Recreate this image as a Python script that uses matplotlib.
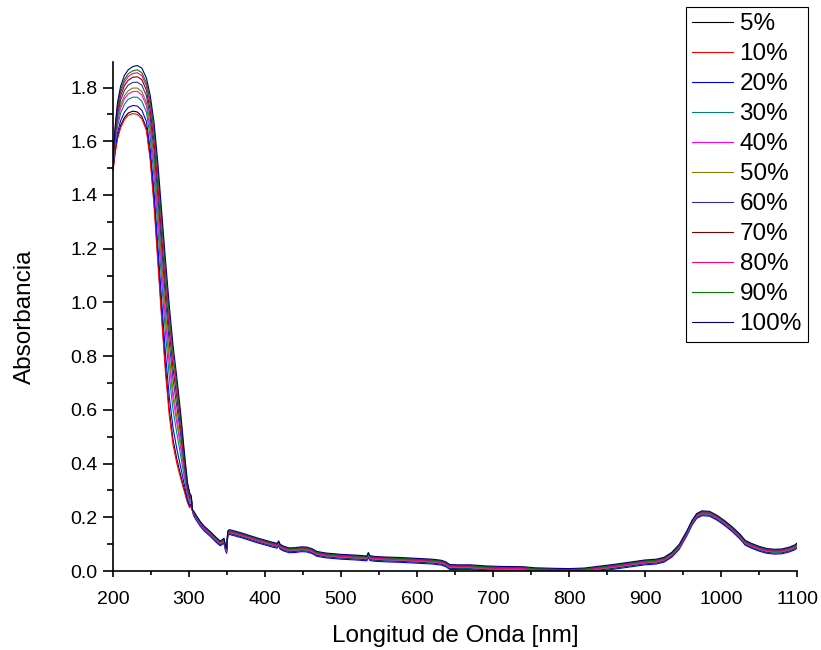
import matplotlib
matplotlib.use("Agg")
import matplotlib.pyplot as plt
from matplotlib.ticker import MultipleLocator, FormatStrFormatter
import numpy as np

plt.rcParams['font.family'] = ['Liberation Sans', 'DejaVu Sans']

labels = ['5%', '10%', '20%', '30%', '40%', '50%', '60%', '70%', '80%', '90%', '100%']
colors = ['#000000', '#ff0000', '#0000ff', '#008080', '#ff00ff', '#808000',
          '#2e2e9c', '#800000', '#ff0080', '#008000', '#000080']

# UV region, where the concentrations separate
uv_nm = [200, 203, 206, 210, 215, 220, 226, 232, 238, 244, 249, 254, 259, 264,
         269, 274, 279, 284, 289, 294, 298, 301, 303, 304.5]

abs_05 = [1.493, 1.565, 1.617, 1.658, 1.688, 1.705, 1.712, 1.709, 1.692, 1.650, 1.542, 1.376,
          1.169, 0.960, 0.761, 0.601, 0.489, 0.416, 0.357, 0.302, 0.259, 0.238, 0.247, 0.225]
abs_10 = [1.490, 1.560, 1.610, 1.650, 1.680, 1.697, 1.703, 1.700, 1.683, 1.640, 1.530, 1.360,
          1.150, 0.940, 0.740, 0.580, 0.470, 0.400, 0.345, 0.295, 0.255, 0.235, 0.245, 0.225]
abs_20 = [1.499, 1.577, 1.633, 1.676, 1.708, 1.726, 1.733, 1.731, 1.715, 1.673, 1.571, 1.413,
          1.213, 1.008, 0.811, 0.650, 0.533, 0.454, 0.387, 0.320, 0.268, 0.244, 0.251, 0.226]
abs_30 = [1.508, 1.595, 1.657, 1.704, 1.738, 1.756, 1.764, 1.764, 1.749, 1.708, 1.614, 1.469,
          1.280, 1.080, 0.887, 0.724, 0.600, 0.512, 0.431, 0.346, 0.281, 0.254, 0.257, 0.226]
abs_40 = [1.514, 1.607, 1.673, 1.723, 1.758, 1.776, 1.785, 1.786, 1.772, 1.732, 1.643, 1.506,
          1.324, 1.128, 0.937, 0.773, 0.644, 0.550, 0.460, 0.363, 0.290, 0.261, 0.261, 0.226]
abs_50 = [1.517, 1.614, 1.683, 1.734, 1.769, 1.788, 1.798, 1.798, 1.785, 1.745, 1.660, 1.527,
          1.350, 1.156, 0.967, 0.801, 0.670, 0.573, 0.477, 0.373, 0.296, 0.265, 0.264, 0.227]
abs_60 = [1.523, 1.626, 1.699, 1.752, 1.789, 1.809, 1.819, 1.820, 1.808, 1.769, 1.688, 1.565,
          1.394, 1.204, 1.017, 0.851, 0.714, 0.611, 0.507, 0.391, 0.305, 0.271, 0.268, 0.227]
abs_70 = [1.529, 1.637, 1.714, 1.769, 1.807, 1.827, 1.838, 1.840, 1.829, 1.790, 1.715, 1.599,
          1.435, 1.248, 1.063, 0.896, 0.755, 0.646, 0.534, 0.407, 0.313, 0.277, 0.272, 0.227]
abs_80 = [1.533, 1.645, 1.725, 1.782, 1.820, 1.841, 1.852, 1.855, 1.844, 1.806, 1.734, 1.624,
          1.465, 1.280, 1.097, 0.929, 0.785, 0.672, 0.553, 0.418, 0.319, 0.282, 0.275, 0.228]
abs_90 = [1.536, 1.651, 1.733, 1.791, 1.830, 1.851, 1.862, 1.866, 1.855, 1.817, 1.748, 1.642,
          1.487, 1.304, 1.122, 0.953, 0.807, 0.691, 0.568, 0.427, 0.323, 0.285, 0.277, 0.228]
abs_100 = [1.540, 1.660, 1.745, 1.805, 1.845, 1.866, 1.878, 1.882, 1.872, 1.835, 1.770, 1.670,
           1.520, 1.340, 1.160, 0.990, 0.840, 0.720, 0.590, 0.440, 0.330, 0.290, 0.280, 0.228]

uv_abs = [abs_05, abs_10, abs_20, abs_30, abs_40, abs_50,
          abs_60, abs_70, abs_80, abs_90, abs_100]

# visible / NIR region, the spectra nearly overlap here
tail_nm = [306, 310, 315, 320, 328, 335, 341, 344, 346, 348, 349.5, 351, 353, 360, 370, 380,
           390, 400, 410, 416, 418, 420, 425, 432, 440, 448, 455, 462, 468, 480, 500, 520,
           534, 536, 538, 545, 560, 580, 600, 620, 632, 638, 643, 655, 670, 690, 710, 740,
           755, 780, 800, 820, 840, 860, 880, 900, 915, 925, 935, 945, 955, 962, 968, 975,
           985, 995, 1005, 1015, 1025, 1032, 1040, 1050, 1060, 1070, 1080, 1090, 1097, 1100]
tail_abs = [0.215, 0.196, 0.175, 0.158, 0.138, 0.118, 0.103, 0.108, 0.113, 0.085, 0.075, 0.140,
            0.145, 0.140, 0.132, 0.123, 0.114, 0.106, 0.098, 0.094, 0.103, 0.090, 0.083, 0.077,
            0.078, 0.081, 0.080, 0.074, 0.064, 0.058, 0.053, 0.050, 0.047, 0.060, 0.048, 0.045,
            0.043, 0.041, 0.038, 0.035, 0.031, 0.025, 0.015, 0.014, 0.014, 0.010, 0.008, 0.007,
            0.003, 0.001, 0.000, 0.002, 0.009, 0.016, 0.024, 0.032, 0.035, 0.042, 0.060, 0.090,
            0.140, 0.180, 0.205, 0.215, 0.213, 0.198, 0.178, 0.155, 0.128, 0.105, 0.094, 0.083,
            0.075, 0.072, 0.073, 0.080, 0.088, 0.095]
tail_offset = [-0.005, 0.000, -0.009, -0.003, -0.001, 0.000, 0.005, 0.003, 0.002, 0.006, 0.009]

fig = plt.figure(figsize=(8.21, 6.5), dpi=100)
ax = fig.add_axes([113 / 821, 1 - 571 / 650, (797 - 113) / 821, (571 - 62) / 650])

nm = np.concatenate([uv_nm, tail_nm])
for uv, off, lab, col in zip(uv_abs, tail_offset, labels, colors):
    ax.plot(nm, np.concatenate([uv, np.array(tail_abs) + off]), color=col, lw=0.8, label=lab)

ax.set_xlim(200, 1100)
ax.set_ylim(0, 1.895)
ax.xaxis.set_major_locator(MultipleLocator(100))
ax.xaxis.set_minor_locator(MultipleLocator(50))
ax.yaxis.set_major_locator(MultipleLocator(0.2))
ax.yaxis.set_minor_locator(MultipleLocator(0.1))
ax.yaxis.set_major_formatter(FormatStrFormatter('%.1f'))

for s in ['top', 'right']:
    ax.spines[s].set_visible(False)
for s in ['left', 'bottom']:
    ax.spines[s].set_linewidth(1.2)

ax.tick_params(axis='x', which='major', direction='out', length=4.5, width=1.2, pad=10, labelsize=14)
ax.tick_params(axis='x', which='minor', direction='out', length=3, width=1.2)
ax.tick_params(axis='y', which='major', direction='out', length=7, width=1.2, pad=4, labelsize=14)
ax.tick_params(axis='y', which='minor', direction='out', length=4.5, width=1.2)

ax.set_xlabel('Longitud de Onda [nm]', fontsize=17.5, labelpad=12)
ax.set_ylabel('Absorbancia', fontsize=17.5, labelpad=25)

leg = ax.legend(loc='upper right', bbox_to_anchor=(808 / 821, 1 - 7 / 650),
                bbox_transform=fig.transFigure, fontsize=17.5, frameon=True, fancybox=False,
                framealpha=1, edgecolor='black', borderpad=0.25, labelspacing=0.33,
                handlelength=1.7, handletextpad=0.25, borderaxespad=0)
leg.get_frame().set_linewidth(0.8)

fig.savefig('out.png', dpi=100)
